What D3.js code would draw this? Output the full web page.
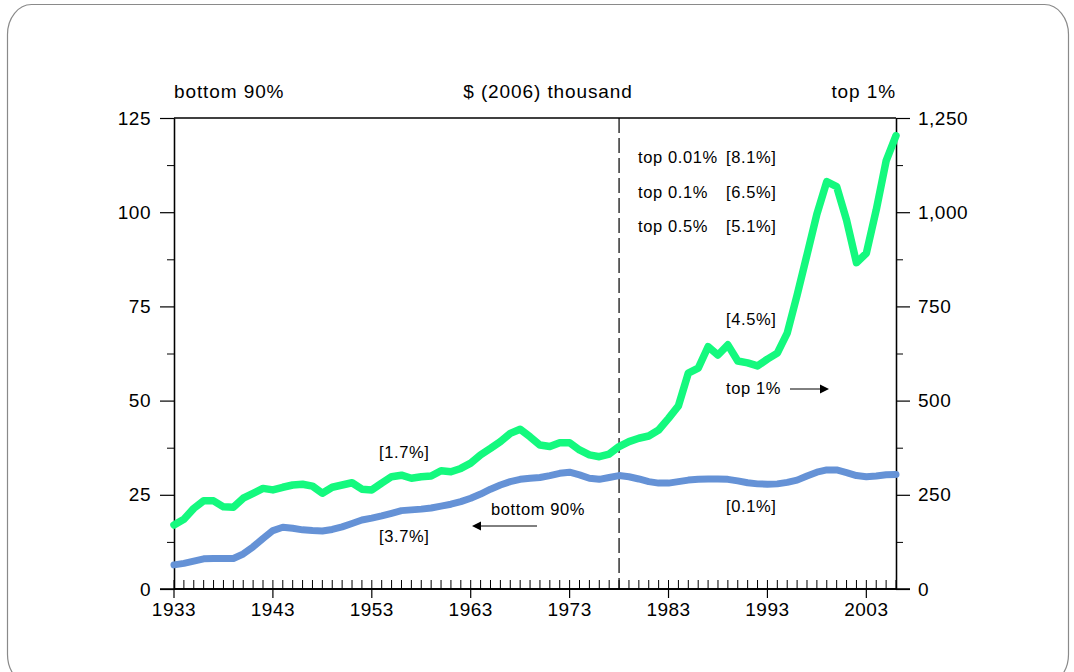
<!DOCTYPE html>
<html>
<head>
<meta charset="utf-8">
<script src="https://cdn.jsdelivr.net/npm/d3@7"></script>
<style>
  body { margin: 0; background: #fff; }
  svg { display: block; font-family: "Liberation Sans", Arial, Helvetica, sans-serif; }
  .axis path { stroke: #000; stroke-width: 1.3; }
  .axis line { stroke: #000; stroke-width: 1.2; }
  .axis.minor line { stroke-width: 1; }
  .axis text { font-size: 19px; letter-spacing: 0.5px; fill: #000; }
  .note { font-size: 16.5px; letter-spacing: 0.6px; fill: #000; }
  .head { font-size: 19px; letter-spacing: 0.9px; fill: #000; }
</style>
</head>
<body>
<svg id="visualization" width="1074" height="672"></svg>
<script>
// income per family, $ (2006) thousand
var years = d3.range(1933, 2007);

// top 1% (right axis)
var top1 = [170, 185, 214, 234, 234, 218, 217, 241, 254, 267,
  263, 270, 276, 278, 273, 254, 270, 276, 282, 265,
  263, 281, 298, 302, 294, 298, 300, 314, 311, 320,
  334, 356, 373, 391, 413, 424, 404, 382, 378, 388,
  388, 369, 356, 351, 358, 378, 391, 400, 406, 422,
  453, 486, 573, 586, 643, 621, 648, 605, 600, 592,
  610, 626, 679, 780, 887, 995, 1081, 1068, 979, 866,
  891, 1006, 1136, 1203];

// bottom 90% (left axis)
var bottom90 = [6.4, 6.8, 7.4, 8.0, 8.1, 8.1, 8.1, 9.3, 11.2, 13.4,
  15.5, 16.4, 16.1, 15.7, 15.5, 15.4, 15.8, 16.5, 17.4, 18.3,
  18.8, 19.4, 20.1, 20.8, 21.0, 21.2, 21.5, 22.0, 22.5, 23.2,
  24.1, 25.2, 26.5, 27.6, 28.5, 29.1, 29.4, 29.6, 30.1, 30.7,
  31.0, 30.3, 29.4, 29.1, 29.6, 30.1, 29.8, 29.2, 28.5, 28.1,
  28.1, 28.5, 28.9, 29.1, 29.2, 29.2, 29.1, 28.7, 28.2, 27.9,
  27.8, 27.9, 28.3, 28.9, 30.0, 31.0, 31.6, 31.6, 30.9, 30.1,
  29.8, 30.0, 30.3, 30.4];

var leftTicks = [0, 25, 50, 75, 100, 125];
var rightTicks = [0, 250, 500, 750, 1000, 1250];
var decadeTicks = [1933, 1943, 1953, 1963, 1973, 1983, 1993, 2003];
var breakYear = 1978;

// growth rates shown next to the lines
var shareLabels = [
  { name: "top 0.01%", rate: "[8.1%]" },
  { name: "top 0.1%", rate: "[6.5%]" },
  { name: "top 0.5%", rate: "[5.1%]" }
];

var vis = d3.select("#visualization"),
  MARGINS = { top: 118, right: 178, bottom: 83, left: 174 },
  WIDTH = 1074, HEIGHT = 672,
  xScale = d3.scaleLinear().domain([1933, 2006]).range([MARGINS.left, 896]),
  yLeft = d3.scaleLinear().domain([0, 125]).range([HEIGHT - MARGINS.bottom, MARGINS.top]),
  yRight = d3.scaleLinear().domain([0, 1250]).range([HEIGHT - MARGINS.bottom, MARGINS.top]);

var x0 = xScale.range()[0], x1 = xScale.range()[1],
  yBot = yLeft(0), yTop = yLeft(125);

// outer frame
vis.append("rect")
  .attr("x", 7.5).attr("y", 4.5)
  .attr("width", 1061).attr("height", 680)
  .attr("rx", 24).attr("ry", 30)
  .style("fill", "none").style("stroke", "#8a8a8a").style("stroke-width", 1.2);

// top border of plot
vis.append("line")
  .attr("x1", x0).attr("x2", x1)
  .attr("y1", yTop).attr("y2", yTop)
  .style("stroke", "#000").style("stroke-width", 1.3);

// left axis, major + minor
vis.append("g").attr("class", "axis")
  .attr("transform", "translate(" + x0 + ",0)")
  .call(d3.axisLeft(yLeft).tickValues(leftTicks).tickSizeInner(14).tickSizeOuter(0).tickPadding(9));
vis.append("g").attr("class", "axis minor")
  .attr("transform", "translate(" + x0 + ",0)")
  .call(d3.axisLeft(yLeft).tickValues(leftTicks.slice(1).map(function(d) { return d - 12.5; }))
    .tickSizeInner(7).tickSizeOuter(0).tickFormat(""));

// right axis
vis.append("g").attr("class", "axis")
  .attr("transform", "translate(" + x1 + ",0)")
  .call(d3.axisRight(yRight).tickValues(rightTicks).tickSizeInner(14).tickSizeOuter(0).tickPadding(8)
    .tickFormat(d3.format(",")));
vis.append("g").attr("class", "axis minor")
  .attr("transform", "translate(" + x1 + ",0)")
  .call(d3.axisRight(yRight).tickValues(rightTicks.slice(1).map(function(d) { return d - 125; }))
    .tickSizeInner(7).tickSizeOuter(0).tickFormat(""));

// bottom axis: yearly ticks pointing up, decade ticks through the line
vis.append("g").attr("class", "axis minor")
  .attr("transform", "translate(0," + yBot + ")")
  .call(d3.axisBottom(xScale).tickValues(years).tickSizeInner(-9).tickSizeOuter(0).tickFormat("").offset(0));
vis.append("g").attr("class", "axis")
  .attr("transform", "translate(0," + yBot + ")")
  .call(d3.axisBottom(xScale).tickValues(decadeTicks).tickSizeInner(9).tickSizeOuter(0).tickPadding(5)
    .tickFormat(d3.format("d")).offset(0));

// the 0 line stretches out past both axes
vis.append("line").attr("x1", x0 - 14).attr("x2", x1 + 14).attr("y1", yBot).attr("y2", yBot)
  .style("stroke", "#000").style("stroke-width", 1.3);

// 1978 break
vis.append("line")
  .attr("x1", xScale(breakYear)).attr("x2", xScale(breakYear))
  .attr("y1", yTop).attr("y2", yBot)
  .style("stroke", "#000").style("stroke-width", 1.2)
  .style("stroke-dasharray", "15,5");

// lines
var lineLeft = d3.line()
  .x(function(d, i) { return xScale(years[i]); })
  .y(function(d) { return yLeft(d); });
var lineRight = d3.line()
  .x(function(d, i) { return xScale(years[i]); })
  .y(function(d) { return yRight(d); });

vis.append("path")
  .datum(bottom90)
  .attr("d", lineLeft)
  .style("fill", "none").style("stroke", "#6592d6")
  .style("stroke-width", 7).style("stroke-linejoin", "round").style("stroke-linecap", "round");

vis.append("path")
  .datum(top1)
  .attr("d", lineRight)
  .style("fill", "none").style("stroke", "#14f97e")
  .style("stroke-width", 7.5).style("stroke-linejoin", "round").style("stroke-linecap", "round");

// headers
vis.append("text").attr("class", "head").attr("x", x0).attr("y", 98).text("bottom 90%");
vis.append("text").attr("class", "head").attr("x", 548).attr("y", 98)
  .style("text-anchor", "middle").text("$ (2006) thousand");
vis.append("text").attr("class", "head").attr("x", x1).attr("y", 98)
  .style("text-anchor", "end").text("top 1%");

// share labels in the upper right
for (var i = 0; i < shareLabels.length; i++) {
  vis.append("text").attr("class", "note")
    .attr("x", 638).attr("y", 163 + i * 34.5)
    .text(shareLabels[i].name);
  vis.append("text").attr("class", "note")
    .attr("x", 726).attr("y", 163 + i * 34.5)
    .text(shareLabels[i].rate);
}

function note(x, y, txt) {
  vis.append("text").attr("class", "note").attr("x", x).attr("y", y).text(txt);
}
note(726, 325, "[4.5%]");
note(726, 394, "top 1%");
note(379, 458, "[1.7%]");
note(379, 542, "[3.7%]");
note(491, 515, "bottom 90%");
note(726, 512, "[0.1%]");

// arrows
function arrow(xa, xb, y) {
  var dir = xb > xa ? 1 : -1;
  vis.append("line").attr("x1", xa).attr("x2", xb - dir * 8).attr("y1", y).attr("y2", y)
    .style("stroke", "#000").style("stroke-width", 1);
  vis.append("path")
    .attr("d", "M" + xb + "," + y + "L" + (xb - dir * 9) + "," + (y - 4.5) + "L" + (xb - dir * 9) + "," + (y + 4.5) + "Z")
    .style("fill", "#000");
}
arrow(790, 829, 389);
arrow(537, 472, 526);
</script>
</body>
</html>
